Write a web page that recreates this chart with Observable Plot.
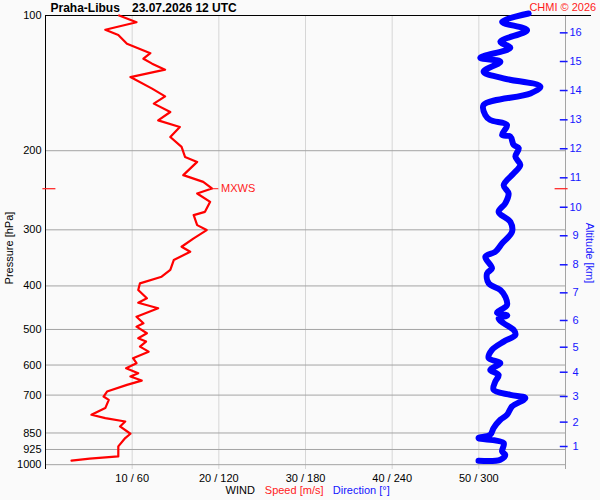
<!DOCTYPE html>
<html><head><meta charset="utf-8">
<script src="https://cdn.jsdelivr.net/npm/d3@7"></script>
<script src="https://cdn.jsdelivr.net/npm/@observablehq/plot@0.6"></script>
<style>
html,body{margin:0;padding:0;background:#fafafa;}
#chart{width:600px;height:500px;}
</style></head><body>
<div id="chart"></div>
<script>
// Wind speed profile (m/s) vs pressure (hPa)
const speedP = [100,103.5,107.6,110.5,115.6,121.3,124.8,128.0,132.0,137.1,145.5,151.4,157.1,164.0,171.2,177.1,186.4,196.1,206.5,211.8,226.7,234.6,242.7,249.0,259.9,273.6,278.3,292.9,300.4,313.4,327.2,335.7,350.3,368.6,381.5,394.7,408.4,426.2,435.9,448.6,468.3,484.4,492.9,509.8,523.0,532.1,545.9,560.2,579.4,594.3,609.8,625.6,636.6,649.8,664.2,687.4,705.2,717.2,748.2,774.3,787.5,801.4,822.1,853.4,872.4,910.6,958.5,969.8,979.7];
const speedV = [8.5,10.5,6.9,8.4,9.4,12.1,11.3,12.3,13.8,9.8,12.3,13.8,12.5,14.4,13.0,15.5,14.4,15.7,16.1,17.5,15.9,18.2,19.2,17.5,19.0,18.4,17.1,17.5,18.6,17.1,15.7,16.7,14.8,14.4,13.4,10.9,10.7,11.7,10.7,13.0,10.5,11.3,10.5,11.7,10.7,11.6,10.9,11.9,10.1,10.5,9.3,10.7,9.8,11.1,9.4,7.1,6.7,7.3,6.9,5.3,6.9,9.2,8.6,9.8,9.2,8.4,8.4,5.1,3.0];
// Wind direction profile (deg) vs pressure (hPa)
const dirP = [99,103.3,107.8,114.4,118.0,124.2,126.7,133.4,138.0,144.0,149.1,158.2,166.6,170.9,175.3,184.5,186.0,194.1,197.4,206.1,215.1,224.7,238.6,249.0,262.0,273.6,288.0,303.0,321.6,335.7,344.4,365.4,375.0,394.7,408.4,422.7,441.0,459.4,465.4,472.6,484.4,501.2,514.1,532.1,555.1,579.4,594.3,614.9,631.0,653.1,681.3,699.0,711.0,742.0,774.3,794.3,828.8,857.9,872.4,894.9,934.2,950.2,974.8,980];
const dirV = [334.5,316.1,333.4,314.9,321.8,301.0,314.9,303.3,317.0,342.6,335.7,303.3,304.5,307.9,319.5,316.1,321.8,324.1,327.6,325.3,328.7,324.1,317.2,320.6,318.3,313.7,321.8,323.0,316.1,311.4,304.5,309.1,305.7,306.8,314.9,318.3,319.5,312.6,319.7,313.7,317.2,324.1,325.3,317.2,309.1,306.8,314.9,307.9,313.7,311.4,310.2,321.8,332.2,323.0,319.5,314.9,310.2,307.9,299.8,317.2,316.1,318.3,314.9,299.8];
// Axes
const pressureTicks = [100,200,300,400,500,600,700,850,925,1000];
const gridP = [200,300,400,500,600,700,850,925,1000];
const speedTicks = [10,20,30,40,50];
const altKm = [1,2,3,4,5,6,7,8,9,10,11,12,13,14,15,16];
const altP = [911,804,705,622.5,547.6,477.5,414.4,358.9,309.3,267.2,229.8,198.0,170.7,146.9,126.6,109.3];
const mxwsP = 243, mxwsS = 19.2;

const speedData = speedP.map((p,i)=>({p, s: speedV[i]}));
const dirData = dirP.map((p,i)=>({p, d: dirV[i]}));
const xMax = 60, pTop = 100, pBottom = 1025;
const BLUE = "#1515ff", RED = "#ff1a1a";

const chart = Plot.plot({
  width: 600, height: 500,
  marginTop: 15, marginRight: 35, marginBottom: 31, marginLeft: 45,
  x: {domain: [0, xMax], axis: null},
  y: {type: "log", domain: [pTop, pBottom], reverse: true, axis: null},
  style: {background: "#fafafa", fontFamily: "'Liberation Sans', Arial, sans-serif", fontSize: "11px", overflow: "visible"},
  marks: [
    Plot.ruleX(speedTicks, {y1: pTop, y2: pBottom, stroke: "#d6d6d6"}),
    Plot.ruleY(gridP, {x1: 0, x2: xMax, stroke: "#a4a4a4"}),
    Plot.ruleX([xMax], {y1: pTop, y2: pBottom, stroke: "#a4a4a4"}),
    Plot.ruleX([0], {y1: pTop, y2: pBottom, stroke: "#000"}),
    Plot.ruleY([pTop], {x1: 0, x2: xMax + 3, stroke: "#000"}),
    Plot.line(dirData, {x: d => d.d / 6, y: "p", stroke: "#0000ff", strokeWidth: 6, curve: "catmull-rom", strokeLinejoin: "round", strokeLinecap: "round"}),
    Plot.line(speedData, {x: "s", y: "p", stroke: "#ff0000", strokeWidth: 2.2, strokeLinejoin: "round"}),
    // MXWS marker
    Plot.ruleY([mxwsP], {x1: mxwsS, x2: mxwsS + 0.8, stroke: RED}),
    Plot.ruleY([mxwsP], {x1: -0.3, x2: 1.2, stroke: RED, strokeWidth: 1.2}),
    Plot.ruleY([mxwsP], {x1: xMax - 1.2, x2: xMax + 0.3, stroke: RED, strokeWidth: 1.2}),
    Plot.text(["MXWS"], {x: mxwsS + 1.05, y: mxwsP, text: d => d, textAnchor: "start", lineAnchor: "middle", fill: RED, fontSize: 11}),
    // left pressure tick labels
    Plot.text(pressureTicks, {y: d => d, frameAnchor: "left", dx: -4, text: d => String(d), textAnchor: "end", lineAnchor: "middle", fill: "#000"}),
    // bottom wind tick labels
    Plot.text(speedTicks, {x: d => d, frameAnchor: "bottom", dy: 9, text: d => `${d} / ${d * 6}`, textAnchor: "middle", lineAnchor: "middle", fill: "#000"}),
    // right altitude ticks
    Plot.ruleY(altP, {x1: xMax - 0.6, x2: xMax + 0.3, stroke: BLUE, strokeWidth: 1.5}),
    Plot.text(altKm, {y: (d, i) => altP[i], frameAnchor: "right", dx: 10, text: d => String(d), textAnchor: "middle", lineAnchor: "middle", fill: BLUE}),
    // titles and legends
    Plot.text(["Praha-Libus"], {frameAnchor: "top-left", dx: 5, dy: -7.8, text: d => d, textAnchor: "start", lineAnchor: "middle", fontWeight: "bold", fontSize: 12, fill: "#000"}),
    Plot.text(["23.07.2026 12 UTC"], {frameAnchor: "top-left", dx: 86.5, dy: -7.8, text: d => d, textAnchor: "start", lineAnchor: "middle", fontWeight: "bold", fontSize: 12, fill: "#000"}),
    Plot.text(["CHMI © 2026"], {frameAnchor: "top-right", dx: 30.7, dy: -8.3, text: d => d, textAnchor: "end", lineAnchor: "middle", fill: RED}),
    Plot.text(["Pressure [hPa]"], {frameAnchor: "left", dx: -36, dy: 5.5, rotate: -90, text: d => d, textAnchor: "middle", lineAnchor: "middle", fill: "#000"}),
    Plot.text(["Altitude [km]"], {frameAnchor: "right", dx: 24, dy: 10.5, rotate: 90, text: d => d, textAnchor: "middle", lineAnchor: "middle", fill: BLUE}),
    Plot.text(["WIND"], {frameAnchor: "bottom-left", dx: 180, dy: 21, text: d => d, textAnchor: "start", lineAnchor: "middle", fill: "#000"}),
    Plot.text(["Speed [m/s]"], {frameAnchor: "bottom-left", dx: 219.3, dy: 21, text: d => d, textAnchor: "start", lineAnchor: "middle", fill: RED}),
    Plot.text(["Direction [°]"], {frameAnchor: "bottom-left", dx: 287.3, dy: 21, text: d => d, textAnchor: "start", lineAnchor: "middle", fill: BLUE})
  ]
});
document.getElementById("chart").append(chart);
</script>
</body></html>
